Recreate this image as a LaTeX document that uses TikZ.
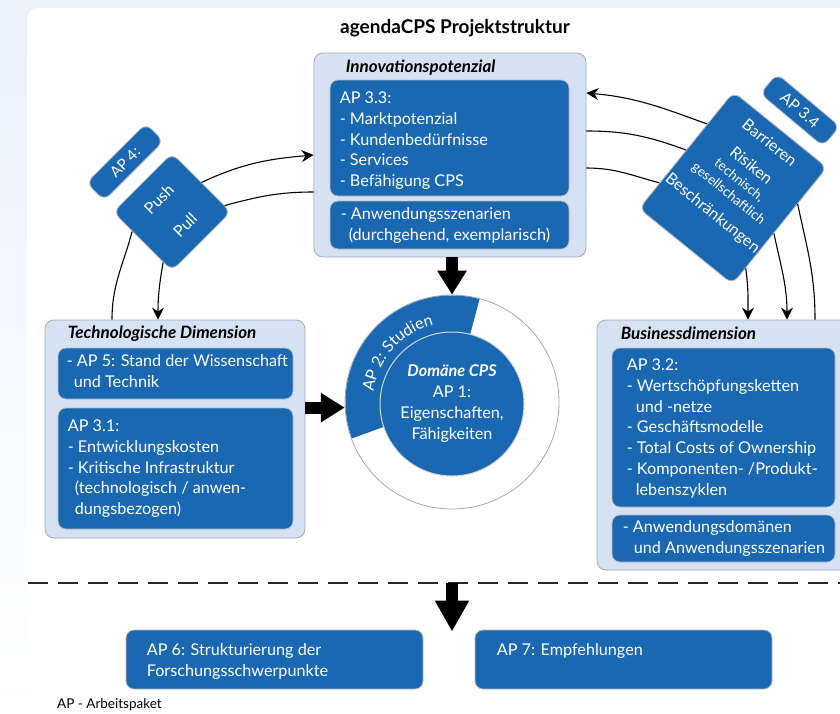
\documentclass[tikz,border=0pt]{standalone}
\usepackage{fontspec}
\setmainfont{Lato}
\usetikzlibrary{arrows.meta,calc,decorations.text}

\definecolor{apblue}{RGB}{26,104,178}
\definecolor{panelblue}{RGB}{214,226,242}
\definecolor{edgegray}{RGB}{165,170,178}
\definecolor{bgblue}{RGB}{236,241,250}

\begin{document}
\begin{tikzpicture}[x=1pt,y=1pt,
  panel/.style={draw=edgegray, fill=panelblue, rounded corners=9pt, line width=0.8pt, inner sep=0pt},
  card/.style={draw=edgegray!80, fill=apblue, rounded corners=8pt, line width=0.8pt, inner sep=0pt},
  cardtext/.style={text=white, font=\fontsize{16.2}{20.8}\selectfont, align=left, inner sep=0pt, anchor=north west},
  heading/.style={font=\bfseries\itshape\fontsize{17}{19}\selectfont, anchor=west, inner sep=0pt},
  conn/.style={line width=1.1pt},
  link/.style={conn, -{Stealth[length=12pt,width=12pt]}},
  bigarrow/.style={line width=12pt, -{Triangle[length=24pt,width=28pt]}}]
  \useasboundingbox (0,0) rectangle (840,-713);
  % background and card
  \shade[top color=bgblue, bottom color=white] (0,0) rectangle (840,-713);
  \fill[white, rounded corners=10pt] (27,-8) rectangle (880,-760);

  \node[font=\bfseries\fontsize{19}{22}\selectfont] (title) at (455,-28) {agendaCPS Projektstruktur};

  % Innovationspotenzial
  \node[panel, minimum width=272pt, minimum height=204pt] (innov) at (450,-155) {};
  \node[heading] (innovhead) at ([shift={(32pt,-15pt)}]innov.north west) {Innovationspotenzial};
  \node[card, minimum width=239pt, minimum height=116pt] (b33) at (449.5,-138) {};
  \node[cardtext] (t33) at ([shift={(10pt,-12pt)}]b33.north west)
    {AP 3.3:\\- Marktpotenzial\\- Kundenbedürfnisse\\- Services\\- Befähigung CPS};
  \node[card, minimum width=239pt, minimum height=48pt] (b33s) at (449.5,-225) {};
  \node[cardtext] (t33s) at ([shift={(11pt,-7pt)}]b33s.north west)
    {- Anwendungsszenarien\\\hspace*{8pt}(durchgehend, exemplarisch)};

  % Technologische Dimension
  \node[panel, minimum width=260pt, minimum height=218pt] (tech) at (175,-429) {};
  \node[heading] (techhead) at ([shift={(23pt,-14pt)}]tech.north west) {Technologische Dimension};
  \node[card, minimum width=235pt, minimum height=51pt] (b5) at (175.5,-373.5) {};
  \node[cardtext] (t5) at ([shift={(9pt,-7pt)}]b5.north west)
    {- AP 5: Stand der Wissenschaft\\\hspace*{7pt}und Technik};
  \node[card, minimum width=235pt, minimum height=121pt] (b31) at (175.5,-468.5) {};
  \node[cardtext] (t31) at ([shift={(10pt,-12pt)}]b31.north west)
    {AP 3.1:\\- Entwicklungskosten\\- Kritische Infrastruktur\\\hspace*{7pt}(technologisch / anwen-\\\hspace*{7pt}dungsbezogen)};

  % Businessdimension
  \node[panel, minimum width=263pt, minimum height=250pt] (bus) at (728.5,-445) {};
  \node[heading] (bushead) at ([shift={(24pt,-14pt)}]bus.north west) {Businessdimension};
  \node[card, minimum width=223pt, minimum height=159pt] (b32) at (723.5,-427.5) {};
  \node[cardtext] (t32) at ([shift={(15pt,-11pt)}]b32.north west)
    {AP 3.2:\\- Wertschöpfungsketten\\\hspace*{9pt}und -netze\\- Geschäftsmodelle\\- Total Costs of Ownership\\- Komponenten- /Produkt-\\\hspace*{9pt}lebenszyklen};
  \node[card, minimum width=223pt, minimum height=47pt] (bdom) at (723.5,-538.5) {};
  \node[cardtext] (tdom) at ([shift={(11pt,-6pt)}]bdom.north west)
    {- Anwendungsdomänen\\\hspace*{11pt}und Anwendungsszenarien};

  % Domaene CPS
  \node[circle, draw=edgegray, line width=0.8pt, fill=white, minimum size=214pt, inner sep=0pt] (ring) at (452,-402) {};
  \fill[apblue] ($(ring.center)+(75:106.5)$) arc[start angle=75, end angle=200, radius=106.5]
    -- ($(ring.center)+(200:70)$) arc[start angle=200, end angle=75, radius=70] -- cycle;
  \path[decorate, decoration={text along path, text align=center,
      text={|\color{white}\fontsize{16}{18}\selectfont|AP 2: Studien}}]
    ($(ring.center)+(190:79)$) arc[start angle=190, end angle=86, radius=79];
  \node[circle, draw=edgegray!50, line width=1pt, fill=apblue, minimum size=144pt, inner sep=0pt,
    text=white, align=center, font=\fontsize{16.2}{21}\selectfont] (core) at (452,-404)
    {\textbf{\textit{Domäne CPS}}\\AP 1:\\Eigenschaften,\\Fähigkeiten};

  % AP 4
  \node[card, rotate=45, minimum width=84pt, minimum height=25pt, text=white,
    font=\fontsize{15}{17}\selectfont] (ap4) at (125,-162) {AP 4:};
  \node[card, rotate=45, minimum width=83pt, minimum height=83pt, text=white, align=center,
    font=\fontsize{16}{37}\selectfont] (push) at (172,-212) {Push\\Pull};

  % AP 3.4
  \node[card, rotate=-40, minimum width=82pt, minimum height=26pt, text=white,
    font=\fontsize{15.5}{17}\selectfont] (ap34) at (800,-110) {AP 3.4};
  \node[card, rotate=-39, minimum width=120pt, minimum height=150pt] (barr) at (733,-188) {};
  \node[rotate=-39, text=white, align=center, inner sep=0pt, font=\fontsize{16}{17}\selectfont]
    (barrtxt) at ($(barr.center)+(51:12)$)
    {Barrieren\\[12pt]Risiken\\[1pt]{\fontsize{13.5}{17}\selectfont technisch,}\\{\fontsize{13.5}{17}\selectfont gesellschaftlich}\\[9pt]Beschränkungen};

  % connectors
  \draw[link] (push.east) to[out=25, in=185] (innov.west);
  \draw[conn] ([yshift=-37pt]innov.west) to[out=180, in=15] (push.-38);
  \draw[conn] (push.161) to[out=-105, in=90] ([xshift=-63pt]tech.north);
  \draw[link] (push.215) to[out=-100, in=90] ([xshift=-17pt]tech.north);

  \draw[link] (barr.151) to[out=160, in=-5] ([yshift=62pt]innov.east);
  \draw[conn] ([yshift=24pt]innov.east) to[out=0, in=160] (barr.west);
  \draw[conn] ([yshift=-13pt]innov.east) to[out=0, in=165] (barr.215);
  \draw[link] (barr.-42) to[out=-82, in=90] ([xshift=19.5pt]bus.north);
  \draw[link] (barr.-9) to[out=-78, in=90] ([xshift=58.5pt]bus.north);
  \draw[conn] (barr.25) to[out=-78, in=90] ([xshift=86.5pt]bus.north);

  % big arrows
  \draw[bigarrow] (ring.north |- innov.south) -- (ring.north);
  \draw[bigarrow] (tech.east |- ring.183) -- (ring.183);

  % lower part
  \coordinate (dl) at (28,-583);
  \coordinate (dr) at (840,-583);
  \draw[line width=2pt, black!85, dash pattern=on 20pt off 10pt] (dl) -- (dr);
  \node[card, minimum width=297pt, minimum height=59pt] (ap6) at (274.5,-659.5) {};
  \node[cardtext] (t6) at ([shift={(21pt,-14pt)}]ap6.north west)
    {AP 6: Strukturierung der\\Forschungsschwerpunkte};
  \node[card, minimum width=297pt, minimum height=59pt] (ap7) at (623.5,-659.5) {};
  \node[cardtext] (t7) at ([shift={(22pt,-14pt)}]ap7.north west) {AP 7: Empfehlungen};
  \coordinate (split) at (452,-583);
  \draw[line width=12pt, -{Triangle[length=31pt,width=32pt]}] (split) -- ([yshift=-2pt]split |- ap6.north);

  \node[anchor=west, inner sep=0pt, font=\fontsize{13.5}{15}\selectfont]
    (legend) at (57,-705) {AP - Arbeitspaket};
\end{tikzpicture}
\end{document}
